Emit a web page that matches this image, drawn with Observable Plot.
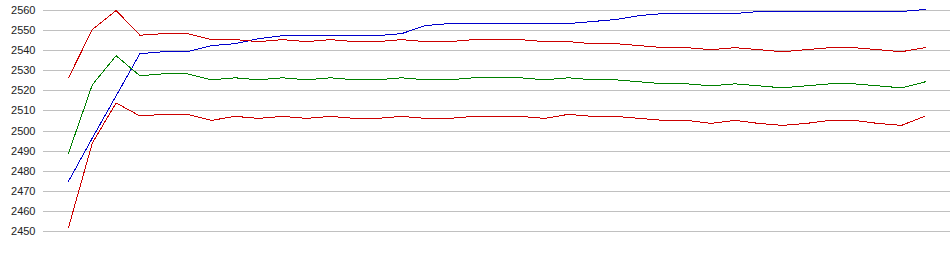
<!DOCTYPE html>
<html>
<head>
<meta charset="utf-8">
<script src="https://cdn.jsdelivr.net/npm/d3@7"></script>
<script src="https://cdn.jsdelivr.net/npm/@observablehq/plot@0.6"></script>
<style>
  html, body { margin: 0; padding: 0; background: #fff; overflow: hidden; }
  #chart svg { display: block; }
</style>
</head>
<body>
<div id="chart"></div>
<script>
const yTicks = [2450, 2460, 2470, 2480, 2490, 2500, 2510, 2520, 2530, 2540, 2550, 2560];

const blueSeries = [2475, 2496.5, 2517.5, 2538.5, 2539.5, 2539.5, 2542.5, 2543.5, 2546, 2547.5,
  2547.5, 2547.5, 2547.5, 2547.5, 2548.5, 2552.5, 2553.5, 2553.5, 2553.5, 2553.5,
  2553.5, 2553.5, 2554.5, 2555.5, 2557.5, 2558.5, 2558.5, 2558.5, 2558.5, 2559.5,
  2559.5, 2559.5, 2559.5, 2559.5, 2559.5, 2559.5, 2560.5];

const upperRedSeries = [2526.5, 2550.5, 2560, 2547.7, 2548.5, 2548.5, 2545.5, 2545.5, 2544.5, 2545.5,
  2544.5, 2545.5, 2544.5, 2544.5, 2545.5, 2544.5, 2544.5, 2545.5, 2545.5, 2545.5,
  2544.5, 2544.5, 2543.5, 2543.5, 2542.5, 2541.5, 2541.5, 2540.5, 2541.5, 2540.5,
  2539.5, 2540.5, 2541.5, 2541.5, 2540.5, 2539.5, 2541.5];

const greenSeries = [2489, 2523, 2537.5, 2527.5, 2528.5, 2528.5, 2525.5, 2526.5, 2525.5, 2526.5,
  2525.5, 2526.5, 2525.5, 2525.5, 2526.5, 2525.5, 2525.5, 2526.5, 2526.5, 2526.5,
  2525.5, 2526.5, 2525.5, 2525.5, 2524.5, 2523.5, 2523.5, 2522.5, 2523.5, 2522.5,
  2521.5, 2522.5, 2523.5, 2523.5, 2522.5, 2521.5, 2524.5];

const lowerRedSeries = [2452, 2494, 2514, 2507.5, 2508.3, 2508.3, 2505.3, 2507.3, 2506.3, 2507.3,
  2506.3, 2507.3, 2506.3, 2506.3, 2507.3, 2506.3, 2506.3, 2507.3, 2507.3, 2507.3,
  2506.3, 2508.3, 2507.3, 2507.3, 2506.3, 2505.3, 2505.3, 2503.8, 2505.3, 2503.8,
  2502.8, 2503.8, 2505.3, 2505.3, 2503.8, 2502.8, 2507.5];

const seriesNames = ["blue", "upperRed", "green", "lowerRed"];
const seriesColors = ["#0000cc", "#cc0000", "#008000", "#cc0000"];
const seriesValues = [blueSeries, upperRedSeries, greenSeries, lowerRedSeries];

const rows = [];
seriesValues.forEach((vals, s) => {
  vals.forEach((v, i) => rows.push({series: seriesNames[s], i, v}));
});

const chart = Plot.plot({
  width: 950,
  height: 255,
  marginTop: 10,
  marginBottom: 24,
  marginLeft: 43,
  marginRight: 0,
  style: {fontFamily: "'Liberation Sans', Arial, sans-serif", fontSize: "11px", color: "#222", background: "#fff"},
  x: {type: "linear", domain: [-1.0504, 37.059], axis: null},
  y: {domain: [2450, 2560], ticks: yTicks, tickSize: 0, tickPadding: 8, label: null},
  color: {domain: seriesNames, range: seriesColors},
  marks: [
    Plot.ruleY(yTicks, {stroke: "#c0c0c0", strokeWidth: 1, shapeRendering: "crispEdges"}),
    Plot.axisY({ticks: yTicks, tickSize: 0, tickPadding: 8, label: null, tickFormat: d => String(d)}),
    Plot.line(rows, {x: "i", y: "v", z: "series", stroke: "series", strokeWidth: 1, curve: "linear", shapeRendering: "crispEdges"})
  ]
});
document.getElementById("chart").appendChild(chart);
</script>
</body>
</html>
